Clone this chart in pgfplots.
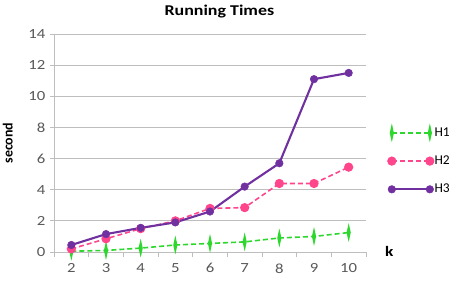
\documentclass[border=0pt]{standalone}
\usepackage{pgfplots}
\pgfplotsset{compat=1.18}
\usepackage{fontspec}
\setmainfont{Carlito}
\definecolor{cH1}{RGB}{45,215,45}
\definecolor{cH2}{RGB}{255,70,140}
\definecolor{cH3}{RGB}{112,48,160}
\definecolor{gridc}{RGB}{190,190,190}
\definecolor{tickc}{RGB}{89,89,89}
\begin{document}
\begin{tikzpicture}[x=1bp,y=1bp]
\useasboundingbox (0,0) rectangle (453,293);
\begin{axis}[
  at={(54bp,41bp)}, anchor=south west,
  scale only axis, width=312bp, height=218bp,
  xmin=1.5, xmax=10.5, ymin=0, ymax=14,
  xtick={1.5,2.5,...,9.5}, xticklabels={},
  extra x ticks={2,...,10},
  extra x tick labels={2,3,4,5,6,7,8,9,10},
  extra x tick style={major tick length=0pt, xticklabel style={yshift=-8bp}},
  ytick={0,2,...,14},
  axis x line*=bottom, axis y line*=left,
  axis line style={draw=none},
  tick align=outside,
  major tick length=4.5bp,
  tick style={gridc, line width=0.8pt},
  ymajorgrids, xmajorgrids=false, grid style={gridc, line width=0.8pt},
  /pgf/number format/assume math mode=true,
  tick label style={font=\fontsize{14}{16}\selectfont, text=tickc, xscale=1.2},
  ylabel={\textbf{second}},
  ylabel style={font=\fontsize{14}{16}\selectfont, at={(axis description cs:-0.148,0.5)}, anchor=center},
  xlabel={\textbf{k}},
  xlabel style={font=\fontsize{14.5}{17}\selectfont, at={(axis description cs:1,0)}, anchor=west, xshift=15bp, yshift=1bp, xscale=1.2},
  title={\textbf{Running Times}},
  title style={font=\fontsize{15}{17}\selectfont, at={(axis description cs:0.53,1.075)}, anchor=center, xscale=1.2},
  legend style={draw=none, fill=none, at={(axis description cs:1.07,0.575)}, anchor=north west,
     font=\fontsize{13.5}{15}\selectfont, row sep=16bp, inner sep=0pt, nodes={inner sep=1pt}},
  legend cell align=left,
  legend image code/.code={\draw[#1] plot coordinates {(0bp,0bp) (38bp,0bp)};},
  clip=false,
]
\draw[gridc, line width=0.8pt] (rel axis cs:0,0) -- (rel axis cs:0,1);
\draw[gridc, line width=0.8pt] (rel axis cs:0,0) -- (rel axis cs:1,0);
\draw[gridc, line width=0.8pt] (rel axis cs:1,0) -- ([yshift=-4.5bp]rel axis cs:1,0);
\addplot[cH1, line width=1.6pt, dash pattern=on 5bp off 3bp, mark=diamond*, mark size=3.4pt, mark options={solid, yscale=1.7, xscale=0.5}]
  coordinates {(2,0.05) (3,0.1) (4,0.25) (5,0.45) (6,0.55) (7,0.65) (8,0.9) (9,1.0) (10,1.25)};
\addlegendentry{H1}
\addplot[cH2, line width=1.6pt, dash pattern=on 5bp off 3bp, mark=*, mark size=3.8pt, mark options={solid}]
  coordinates {(2,0.2) (3,0.85) (4,1.5) (5,2.0) (6,2.8) (7,2.85) (8,4.4) (9,4.4) (10,5.45)};
\addlegendentry{H2}
\addplot[cH3, line width=2.1pt, solid, mark=*, mark size=3.8pt, mark options={line width=0.5pt}]
  coordinates {(2,0.45) (3,1.15) (4,1.55) (5,1.9) (6,2.6) (7,4.2) (8,5.7) (9,11.1) (10,11.5)};
\addlegendentry{H3}
\end{axis}
\end{tikzpicture}
\end{document}
